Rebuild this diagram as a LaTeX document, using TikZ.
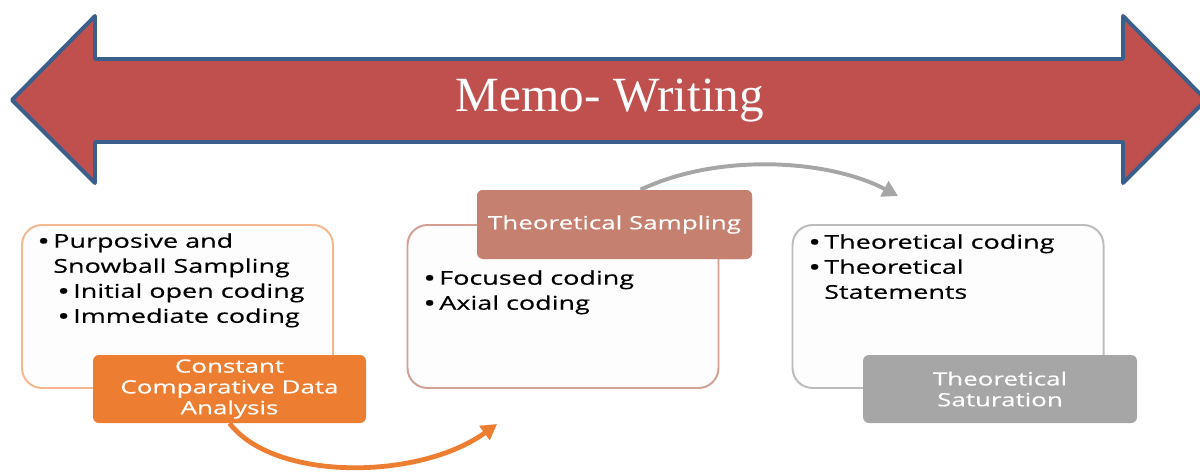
\documentclass[tikz,border=0pt]{standalone}
\usepackage{fontspec}
\setmainfont[FakeStretch=1.42, FakeBold=0.4]{Open Sans}
\newfontfamily\memofont{Liberation Serif}
\usetikzlibrary{arrows.meta}

\definecolor{memored}{HTML}{C0504D}
\definecolor{memoblue}{HTML}{3A5F8B}
\definecolor{ccdaorange}{HTML}{ED7D31}
\definecolor{sampbrown}{HTML}{C5806F}
\definecolor{satgray}{HTML}{A6A6A6}
\definecolor{boxfill}{HTML}{FDFDFD}

\newlength{\px}
\setlength{\px}{0.025cm}
\newcommand{\bul}{\makebox[16\px][l]{\raisebox{-1.3pt}{\scalebox{1.25}{\textbullet}}}}

\tikzset{
  phasebox/.style={draw, fill=boxfill, line width=1.4pt, rounded corners=20\px,
    minimum width=311\px, minimum height=163\px, inner sep=0pt},
  tagbox/.style={rounded corners=6\px, text=white, align=center, inner sep=0pt,
    font=\fontsize{13}{14.8}\selectfont},
  itemtext/.style={anchor=north west, align=left, inner sep=0pt,
    font=\fontsize{13.5}{17.8}\selectfont},
  flow/.style={line width=3.4pt, -{Triangle[length=11pt,width=12pt]}}
}

\begin{document}
\begin{tikzpicture}[x=\px, y=-\px]
\useasboundingbox (0,0) rectangle (1200,472);

% double headed arrow across the top
\filldraw[fill=memored, draw=memoblue, line width=2.8pt, line join=round]
  (12,100) -- (95,16) -- (95,59) -- (1123,59) -- (1123,16) -- (1206,100)
  -- (1123,183) -- (1123,142) -- (95,142) -- (95,183) -- cycle;
\node[text=white, font=\memofont\fontsize{35}{38}\selectfont] (memo) at (610,101) {Memo- Writing};

% grey arc behind the sampling tag
\coordinate (satin) at (898,196);
\node[tagbox, fill=sampbrown, minimum width=275\px, minimum height=69\px] (samp) at (614.5,224.5) {};
\draw[flow, draw=satgray, line width=2.8pt] ([xshift=26\px]samp.north) .. controls (720,152) and (830,160) .. (satin);

% the three phases
\node[phasebox, draw=ccdaorange!55] (open) at (177.5,306.5) {};
\node[phasebox, draw=sampbrown!75] (focus) at (563,306.5) {};
\node[phasebox, draw=satgray!75] (theory) at (948,306.5) {};

\node[itemtext] (openitems) at (37,233) {\bul Purposive and\\\hspace*{16\px}Snowball Sampling\\
  \hspace*{20\px}\bul Initial open coding\\\hspace*{20\px}\bul Immediate coding};
\node[itemtext] (focusitems) at (423,270) {\bul Focused coding\\\bul Axial coding};
\node[itemtext] (theoryitems) at (808,234) {\bul Theoretical coding\\\bul Theoretical\\\hspace*{16\px}Statements};

% tags on the phases
\node[tagbox, fill=sampbrown, minimum width=275\px, minimum height=69\px] at (samp) {Theoretical Sampling};
\node[tagbox, fill=ccdaorange, minimum width=273\px, minimum height=68\px] (ccda) at (229.5,389)
  {Constant\\Comparative Data\\Analysis};
\node[tagbox, fill=satgray, minimum width=274\px, minimum height=68\px] (sat) at (1000,389)
  {Theoretical\\Saturation};

% orange arc into the focus phase
\coordinate (focusin) at (497,424);
\draw[flow, draw=ccdaorange] (ccda.south) .. controls (275,482) and (420,480) .. (focusin);
\end{tikzpicture}
\end{document}
